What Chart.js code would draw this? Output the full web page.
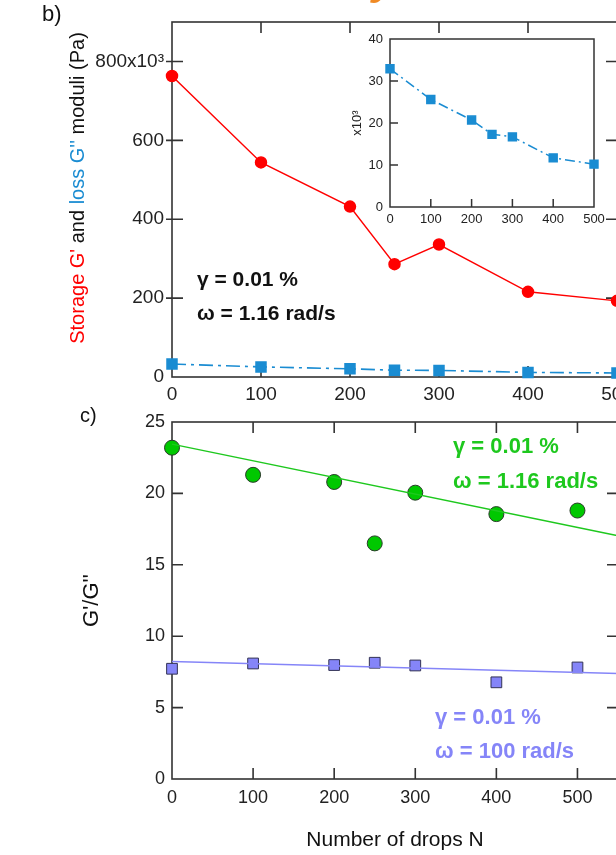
<!DOCTYPE html>
<html lang="en">
<head>
<meta charset="UTF-8">
<title>Moduli and G'/G'' vs number of drops</title>
<script src="https://cdn.jsdelivr.net/npm/chart.js@4"></script>
<style>
  html, body { margin: 0; padding: 0; background: #fff; overflow: hidden; }
  #wrap { position: relative; width: 616px; height: 855px; overflow: hidden; }
  canvas { position: absolute; }
</style>
</head>
<body>
<div id="wrap">
  <canvas id="topChart"></canvas>
  <canvas id="insetChart"></canvas>
  <canvas id="ratioChart"></canvas>
</div>
<script>
// ---- data ----
const drops = [0, 100, 200, 250, 300, 400, 500];
const storageG = [763, 544, 432, 286, 336, 216, 193];           // G' (x10^3 Pa)
const lossG = [32.9, 25.6, 20.7, 17.3, 16.7, 11.7, 10.2];       // G'' (x10^3 Pa)
const ratioSlow = [23.2, 21.3, 20.8, 16.5, 20.05, 18.55, 18.8]; // w = 1.16 rad/s
const ratioFast = [7.72, 8.09, 7.98, 8.14, 7.95, 6.77, 7.81];   // w = 100 rad/s
const fitN = [0, 550];
const fitSlow = [23.45, 17.03];
const fitFast = [8.23, 7.39];

const topXTicks = [0, 100, 200, 300, 400, 500];
const topYTicks = [0, 200, 400, 600, 800];
const insetXTicks = [0, 100, 200, 300, 400, 500];
const insetYTicks = [0, 10, 20, 30, 40];
const ratioXTicks = [0, 100, 200, 300, 400, 500];
const ratioYTicks = [0, 5, 10, 15, 20, 25];

const RED = '#ff0000';
const BLUE = '#1a8cd2';
const GREEN = '#1ec81e';
const PURPLE = '#8585f8';
const FONT = "'Liberation Sans', Arial, sans-serif";

Chart.defaults.font.family = FONT;
Chart.defaults.color = '#222';
Chart.defaults.animation = false;

function pts(xs, ys) {
  return xs.map((x, i) => ({ x: x, y: ys[i] }));
}

function place(id, left, top, w, h) {
  const c = document.getElementById(id);
  c.width = w; c.height = h;
  c.style.left = left + 'px'; c.style.top = top + 'px';
  return c;
}

function xAxis(min, max, ticks, height, size, pad) {
  return {
    type: 'linear', min: min, max: max,
    grid: { display: false, drawTicks: false },
    border: { display: false },
    ticks: { font: { size: size }, padding: pad, color: '#222', maxRotation: 0, autoSkip: false },
    afterBuildTicks: s => { s.ticks = ticks.map(v => ({ value: v })); },
    afterFit: s => { s.height = height; s.paddingLeft = 0; s.paddingRight = 0; }
  };
}

function yAxis(min, max, ticks, width, size, pad, fmt) {
  return {
    type: 'linear', min: min, max: max,
    grid: { display: false, drawTicks: false },
    border: { display: false },
    ticks: { font: { size: size }, padding: pad, color: '#222', autoSkip: false,
             callback: fmt || (v => String(v)) },
    afterBuildTicks: s => { s.ticks = ticks.map(v => ({ value: v })); },
    afterFit: s => { s.width = width; s.paddingTop = 0; s.paddingBottom = 0; }
  };
}

// box round the plot plus tick marks drawn into the plot
function framePlugin(o) {
  return {
    id: 'frame',
    beforeDatasetsDraw(chart) {
      const { ctx, chartArea: a, scales: { x, y } } = chart;
      ctx.save();
      ctx.strokeStyle = '#333';
      ctx.lineWidth = o.lw;
      ctx.strokeRect(a.left, a.top, a.right - a.left, a.bottom - a.top);
      ctx.beginPath();
      o.xt.forEach(v => {
        const px = x.getPixelForValue(v);
        ctx.moveTo(px, a.bottom); ctx.lineTo(px, a.bottom - o.len);
        if (o.top) { ctx.moveTo(px, a.top); ctx.lineTo(px, a.top + o.len); }
      });
      o.yt.forEach(v => {
        const py = y.getPixelForValue(v);
        ctx.moveTo(a.left - (o.out || 0), py); ctx.lineTo(a.left + o.len, py);
        if (o.right) { ctx.moveTo(a.right, py); ctx.lineTo(a.right - o.len, py); }
      });
      ctx.stroke();
      ctx.restore();
    }
  };
}

function vText(ctx, parts, cx, cy, font) {
  ctx.save();
  ctx.translate(cx, cy);
  ctx.rotate(-Math.PI / 2);
  ctx.font = font;
  ctx.textBaseline = 'middle';
  ctx.textAlign = 'left';
  const total = parts.reduce((s, p) => s + ctx.measureText(p[0]).width, 0);
  let xx = -total / 2;
  parts.forEach(p => {
    ctx.fillStyle = p[1];
    ctx.fillText(p[0], xx, 0);
    xx += ctx.measureText(p[0]).width;
  });
  ctx.restore();
}

// ---- b) storage and loss moduli ----
const topCanvas = place('topChart', 0, 0, 630, 420);
new Chart(topCanvas, {
  type: 'line',
  data: {
    datasets: [
      { data: pts(drops, storageG), borderColor: RED, backgroundColor: RED, borderWidth: 1.5,
        pointStyle: 'circle', pointRadius: 5.5, clip: false },
      { data: pts(drops, lossG), borderColor: BLUE, backgroundColor: BLUE, borderWidth: 1.6,
        borderDash: [14, 5, 3, 5], pointStyle: 'rect', pointRadius: 7, clip: false }
    ]
  },
  options: {
    responsive: false, devicePixelRatio: 1,
    layout: { padding: { left: 0, top: 22, right: 13, bottom: 0 } },
    plugins: { legend: { display: false }, tooltip: { enabled: false } },
    scales: {
      x: xAxis(0, 500, topXTicks, 43, 19, 6),
      y: yAxis(0, 900, topYTicks, 172, 19, 8, v => v === 800 ? '800x10³' : String(v))
    }
  },
  plugins: [
    framePlugin({ lw: 1.6, len: 11, out: 6, top: true, right: true,
                  xt: [100, 200, 300, 400], yt: [200, 400, 600, 800] }),
    {
      id: 'topText',
      afterDraw(chart) {
        const ctx = chart.ctx;
        ctx.save();
        ctx.fillStyle = '#111';
        ctx.textBaseline = 'middle';
        ctx.textAlign = 'left';
        ctx.font = 'bold 21px ' + FONT;
        ctx.fillText('γ = 0.01 %', 197, 280);
        ctx.fillText('ω = 1.16 rad/s', 197, 314);
        ctx.font = '22px ' + FONT;
        ctx.fillText('b)', 42, 15);
        ctx.fillStyle = '#f08a24';
        ctx.font = 'bold italic 44px ' + FONT;
        ctx.textBaseline = 'alphabetic';
        ctx.fillText('y', 372, -6);
        ctx.restore();
        vText(ctx, [["Storage G'", RED], [' and ', '#111'], ["loss G''", BLUE], [' moduli (Pa)', '#111']],
              78, 188, '20px ' + FONT);
      }
    }
  ]
});

// ---- inset: loss modulus zoom ----
const insetCanvas = place('insetChart', 330, 30, 280, 200);
new Chart(insetCanvas, {
  type: 'line',
  data: {
    datasets: [
      { data: pts(drops, lossG), borderColor: BLUE, backgroundColor: BLUE, borderWidth: 1.5,
        borderDash: [10, 4, 2, 4], pointStyle: 'rect', pointRadius: 5.6, clip: false }
    ]
  },
  options: {
    responsive: false, devicePixelRatio: 1,
    layout: { padding: { left: 0, top: 9, right: 16, bottom: 0 } },
    plugins: { legend: { display: false }, tooltip: { enabled: false } },
    scales: {
      x: xAxis(0, 500, insetXTicks, 23, 13, 5),
      y: yAxis(0, 40, insetYTicks, 60, 13, 7)
    }
  },
  plugins: [
    framePlugin({ lw: 1.5, len: 8, xt: [100, 200, 300, 400], yt: [10, 20, 30] }),
    {
      id: 'insetText',
      afterDraw(chart) {
        const a = chart.chartArea;
        vText(chart.ctx, [['x10³', '#222']], a.left - 33, (a.top + a.bottom) / 2, '13px ' + FONT);
      }
    }
  ]
});

// ---- c) G'/G'' ratio ----
const ratioCanvas = place('ratioChart', 0, 400, 640, 455);
new Chart(ratioCanvas, {
  type: 'line',
  data: {
    datasets: [
      { data: pts(fitN, fitSlow), borderColor: GREEN, borderWidth: 1.5, pointRadius: 0, clip: false },
      { data: pts(fitN, fitFast), borderColor: PURPLE, borderWidth: 1.5, pointRadius: 0, clip: false },
      { data: pts(drops, ratioSlow), showLine: false, backgroundColor: '#00c800', borderColor: '#2a3a2a',
        pointBorderWidth: 1, pointStyle: 'circle', pointRadius: 7.5, clip: false },
      { data: pts(drops, ratioFast), showLine: false, backgroundColor: PURPLE, borderColor: '#333355',
        pointBorderWidth: 1, pointStyle: 'rect', pointRadius: 7.6, clip: false }
    ]
  },
  options: {
    responsive: false, devicePixelRatio: 1,
    layout: { padding: { left: 0, top: 22, right: 22, bottom: 0 } },
    plugins: { legend: { display: false }, tooltip: { enabled: false } },
    scales: {
      x: xAxis(0, 550, ratioXTicks, 76, 18, 8),
      y: yAxis(0, 25, ratioYTicks, 172, 18, 7)
    }
  },
  plugins: [
    framePlugin({ lw: 1.6, len: 11, top: true, right: true,
                  xt: [100, 200, 300, 400, 500], yt: [5, 10, 15, 20] }),
    {
      id: 'ratioText',
      afterDraw(chart) {
        const ctx = chart.ctx;
        const a = chart.chartArea;
        ctx.save();
        ctx.textBaseline = 'middle';
        ctx.textAlign = 'left';
        ctx.font = 'bold 22px ' + FONT;
        ctx.fillStyle = GREEN;
        ctx.fillText('γ = 0.01 %', 453, 47);
        ctx.fillText('ω = 1.16 rad/s', 453, 82);
        ctx.fillStyle = PURPLE;
        ctx.fillText('γ = 0.01 %', 435, 318);
        ctx.fillText('ω = 100 rad/s', 435, 352);
        ctx.fillStyle = '#111';
        ctx.font = '20px ' + FONT;
        ctx.fillText('c)', 80, 16);
        ctx.textAlign = 'center';
        ctx.font = '21px ' + FONT;
        ctx.fillText('Number of drops N', (a.left + a.right) / 2, a.bottom + 61);
        ctx.restore();
        vText(ctx, [["G'/G''", '#111']], 92, (a.top + a.bottom) / 2, '22px ' + FONT);
      }
    }
  ]
});
</script>
</body>
</html>
